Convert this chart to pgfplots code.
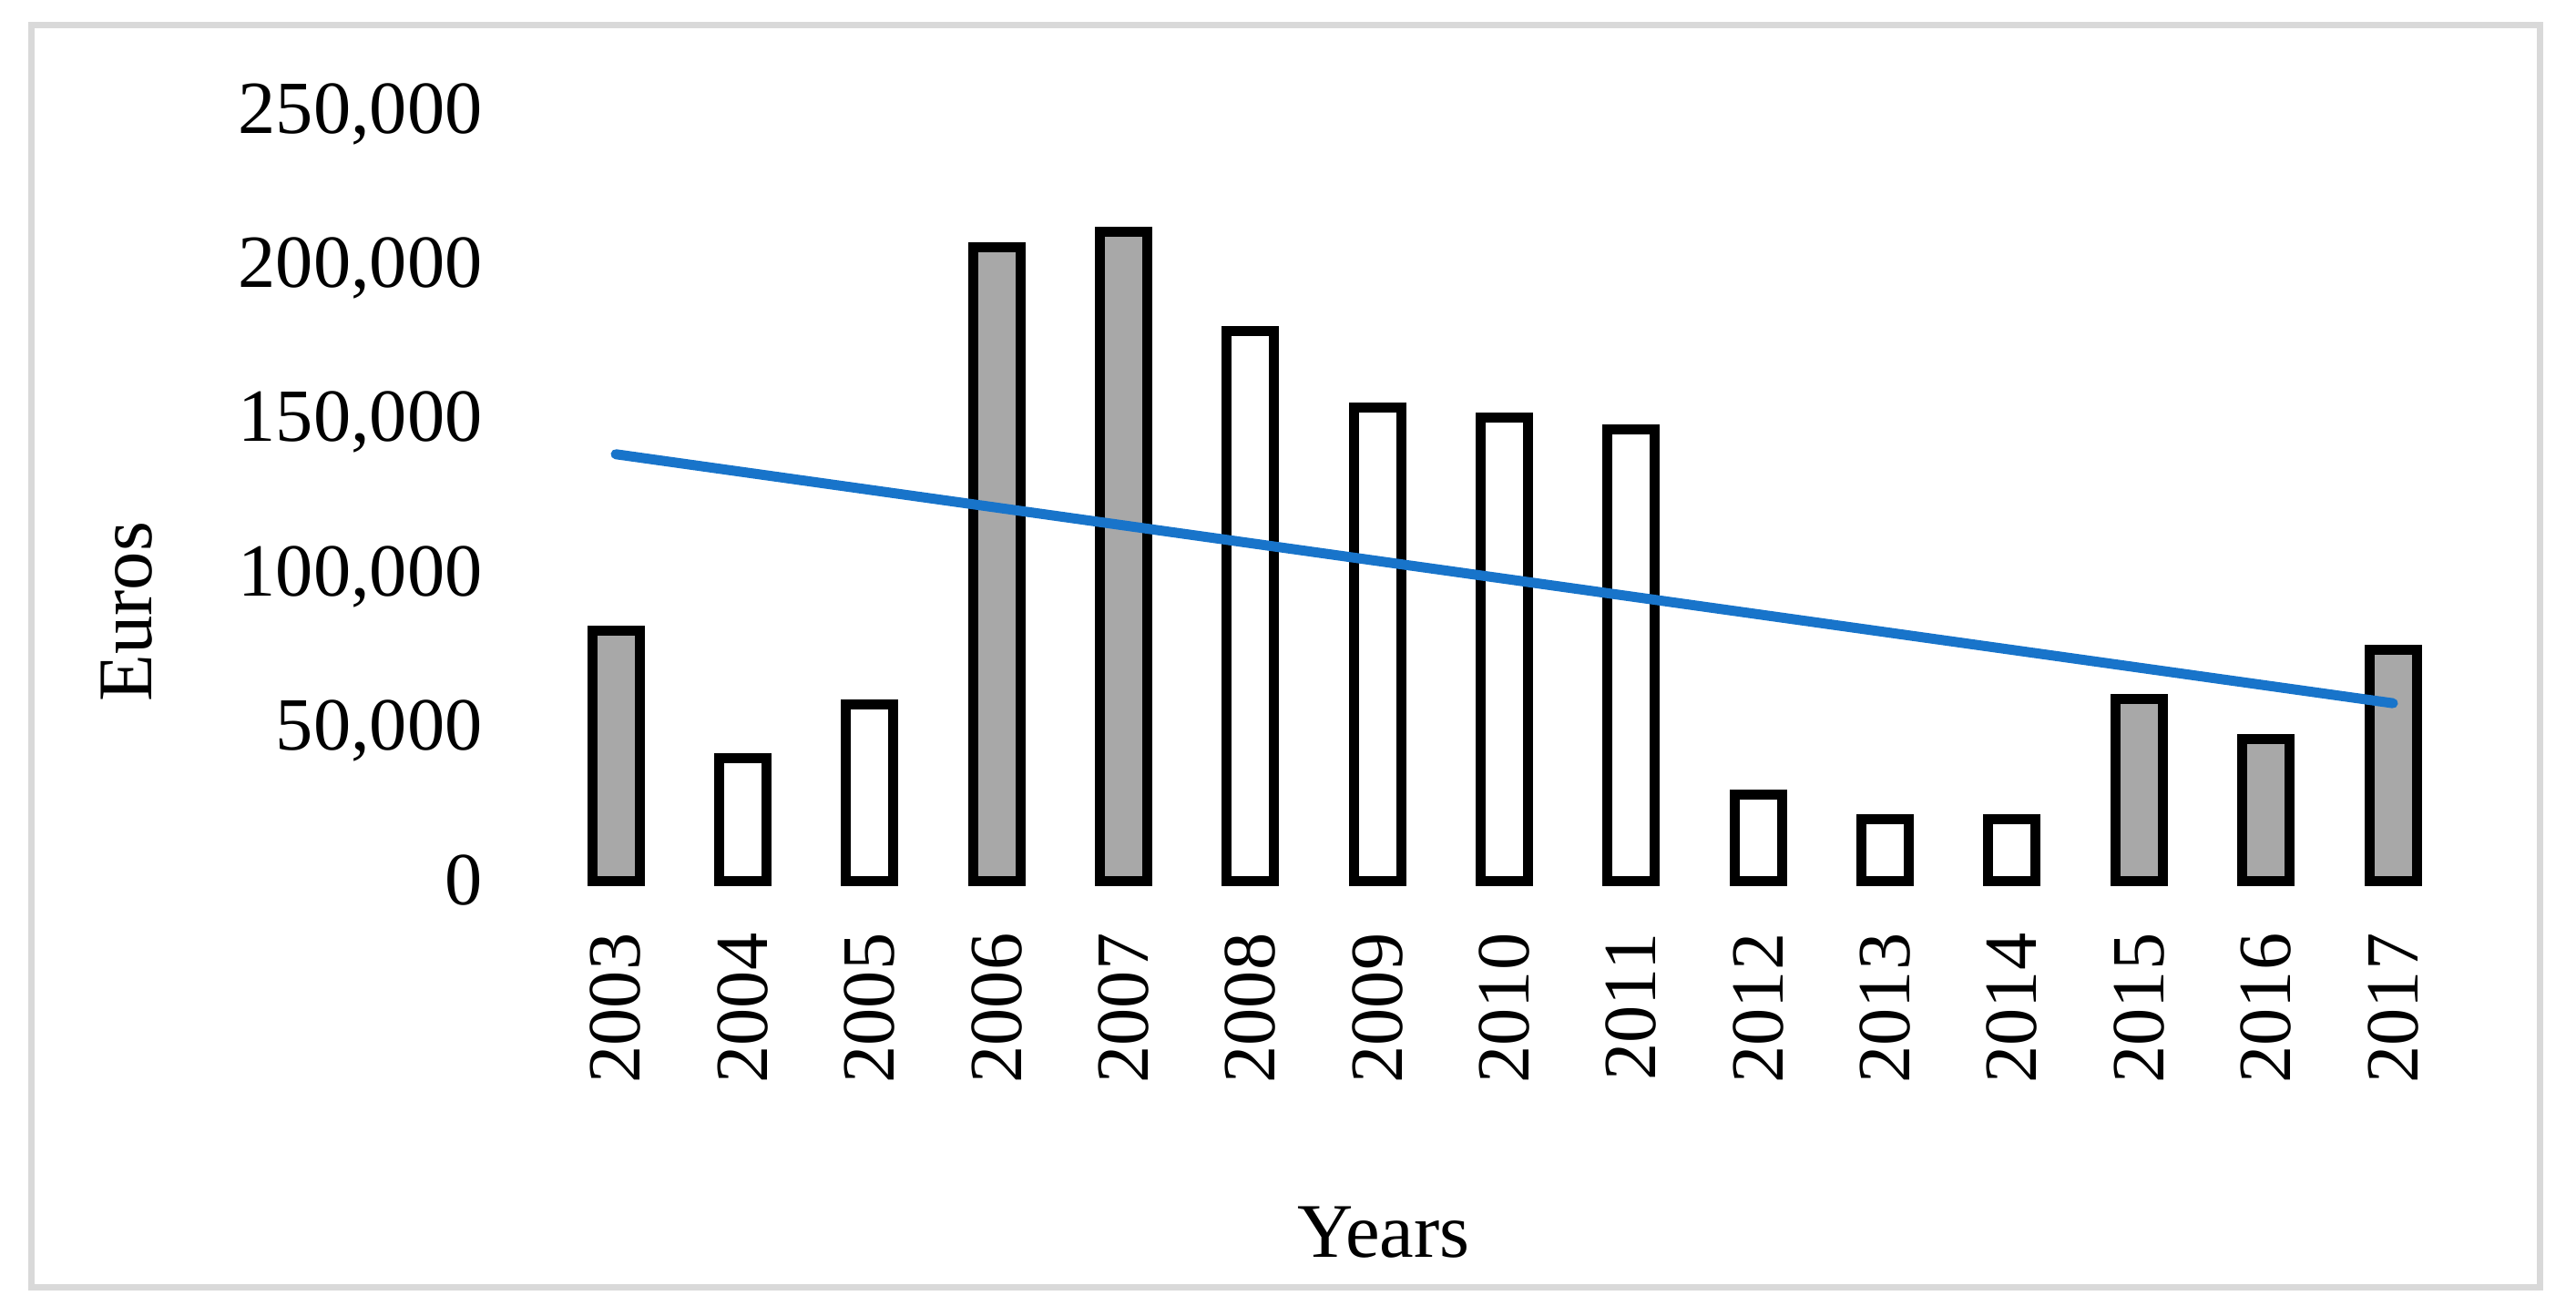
\documentclass[border=0pt]{standalone}
\usepackage{fontspec}
\setmainfont{Liberation Serif}
\usepackage{pgfplots}
\pgfplotsset{compat=1.18}
\definecolor{trend}{RGB}{24,116,202}
\definecolor{barg}{RGB}{168,168,168}
\definecolor{framec}{RGB}{217,217,217}
\begin{document}
\begin{tikzpicture}
\useasboundingbox (0,0) rectangle (707pt,361.25pt);
\draw[framec, line width=1.75pt] (8.5pt,7.75pt) rectangle (697.1pt,354.4pt);
\begin{axis}[
  at={(151.58pt,119.25pt)}, anchor=south west,
  scale only axis, width=522.6pt, height=211.75pt,
  xmin=-0.5, xmax=14.5, ymin=0, ymax=250000,
  clip=false,
  axis line style={draw=none},
  major tick style={draw=none},
  xtick={0,1,2,3,4,5,6,7,8,9,10,11,12,13,14},
  xticklabels={2003,2004,2005,2006,2007,2008,2009,2010,2011,2012,2013,2014,2015,2016,2017},
  ytick={0,50000,100000,150000,200000,250000},
  scaled y ticks=false,
  /pgf/number format/.cd, fixed, 1000 sep={,}, assume math mode=true,
  /pgfplots/.cd,
  tick label style={font=\fontsize{20.6}{24}\selectfont},
  label style={font=\fontsize{21.2}{24}\selectfont},
  yticklabel style={anchor=base east, inner sep=0pt, xshift=-19pt, yshift=-6.3pt},
  xticklabel style={inner sep=0pt, yshift=-14pt, rotate=90, anchor=east},
  xlabel={Years},
  ylabel={Euros},
  xlabel style={at={(axis description cs:0.4366,-0.4545)}, anchor=center},
  ylabel style={at={(axis description cs:-0.2236,0.350)}, anchor=center, rotate=0},
]
\addplot[ybar, bar width=13pt, bar shift=0pt, fill=barg, draw=black, line width=2.75pt]
  coordinates {(0,81400) (3,205700) (4,210600) (12,59200) (13,46300) (14,75200)};
\addplot[ybar, bar width=13pt, bar shift=0pt, fill=white, draw=black, line width=2.75pt]
  coordinates {(1,39850) (2,57260) (5,178400) (6,153500) (7,150500) (8,146400) (9,28100) (10,20070) (11,20070)};
\addplot[trend, line width=2.75pt, line cap=round, mark=none]
  coordinates {(0,138500) (14,57800)};
\end{axis}
\end{tikzpicture}
\end{document}
